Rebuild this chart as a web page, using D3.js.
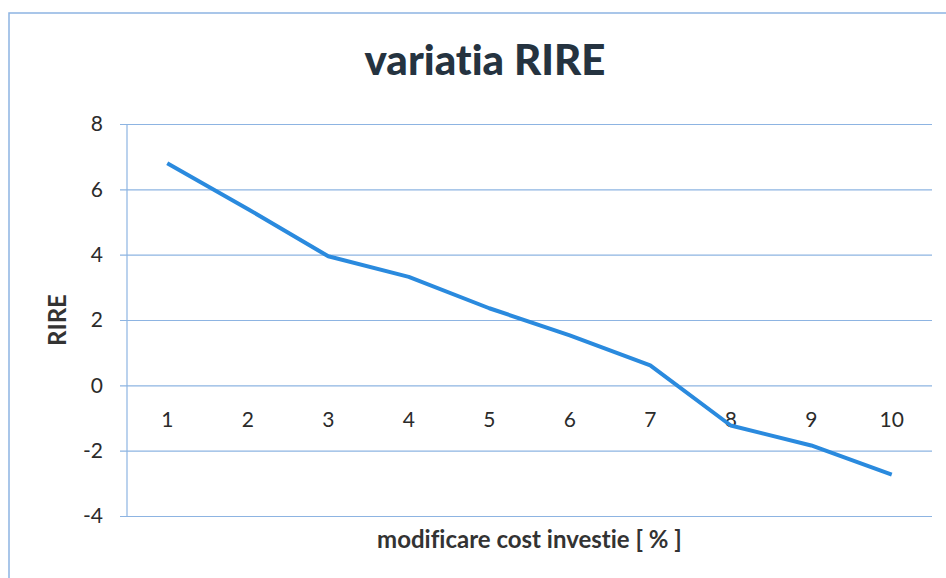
<!DOCTYPE html>
<html>
<head>
<meta charset="utf-8">
<script src="https://cdn.jsdelivr.net/npm/d3@7"></script>
<style>
  html, body { margin: 0; padding: 0; background: #fff; }
  svg { display: block; }
  text { font-variant-ligatures: none; font-feature-settings: "liga" 0, "dlig" 0; }
</style>
</head>
<body>
<div id="chart"></div>
<script>
// data
const categories = [1, 2, 3, 4, 5, 6, 7, 8, 9, 10];
const rireValues = [6.8, 5.4, 3.95, 3.32, 2.36, 1.53, 0.61, -1.23, -1.84, -2.73];
const yTicks = [-4, -2, 0, 2, 4, 6, 8];

const W = 946, H = 578;
const margin = { top: 124, right: 14, bottom: 62, left: 127 };
const width = W - margin.left - margin.right;
const height = H - margin.top - margin.bottom;

const gridColor = "#8db4e2";
const textColor = "#2b2b2b";
const font = "Lato, 'Open Sans', sans-serif";

const svg = d3.select("#chart").append("svg")
  .attr("width", W)
  .attr("height", H);

// chart frame (runs off the right/bottom edge in the scan)
svg.append("rect")
  .attr("x", 9)
  .attr("y", 13)
  .attr("width", W + 10)
  .attr("height", H + 10)
  .attr("fill", "none")
  .attr("stroke", gridColor)
  .attr("stroke-width", 1.5);

const g = svg.append("g")
  .attr("transform", `translate(${margin.left},${margin.top})`);

const x = d3.scaleBand().domain(categories).range([0, width]);
const y = d3.scaleLinear().domain([-4, 8]).range([height, 0]);

// horizontal gridlines with little tick stubs to the left
const yAxis = g.append("g")
  .call(d3.axisLeft(y).tickValues(yTicks).tickFormat(d3.format("d")).tickSize(-width - 7))
  .attr("transform", "translate(-7,0)");
yAxis.select(".domain").remove();
yAxis.selectAll(".tick line")
  .attr("x1", 0)
  .attr("x2", width + 7)
  .attr("stroke", gridColor)
  .attr("stroke-width", 1.2);
yAxis.selectAll(".tick text")
  .attr("x", -17)
  .text(d => String(d))
  .style("font-family", font)
  .style("font-size", "21px")
  .style("fill", textColor);

// vertical axis line
g.append("line")
  .attr("x1", 0).attr("x2", 0)
  .attr("y1", 0).attr("y2", height)
  .attr("stroke", gridColor)
  .attr("stroke-width", 1.2);

// category labels sit just under the zero line
const xAxis = g.append("g")
  .attr("transform", `translate(0,${y(0)})`)
  .call(d3.axisBottom(x).tickSize(0).tickPadding(27));
xAxis.select(".domain").remove();
xAxis.selectAll(".tick text")
  .style("font-family", font)
  .style("font-size", "21px")
  .style("fill", textColor);

// the series
const line = d3.line()
  .x((d, i) => x(categories[i]) + x.bandwidth() / 2)
  .y(d => y(d));

g.append("path")
  .datum(rireValues)
  .attr("d", line)
  .attr("fill", "none")
  .attr("stroke", "#2a8ade")
  .attr("stroke-width", 4)
  .attr("stroke-linejoin", "round");

// titles
svg.append("text")
  .attr("x", 485)
  .attr("y", 75)
  .attr("text-anchor", "middle")
  .style("font-family", font)
  .style("font-weight", "900")
  .style("font-size", "42px")
  .style("fill", "#253340")
  .text("variatia RIRE");

svg.append("text")
  .attr("x", margin.left + width / 2)
  .attr("y", 548)
  .attr("text-anchor", "middle")
  .style("font-family", font)
  .style("font-weight", "bold")
  .style("font-size", "24px")
  .style("fill", "#333")
  .text("modificare cost investie [ % ]");

svg.append("text")
  .attr("transform", `translate(66,${margin.top + height / 2}) rotate(-90)`)
  .attr("text-anchor", "middle")
  .style("font-family", font)
  .style("font-weight", "bold")
  .style("font-size", "24px")
  .style("fill", "#333")
  .text("RIRE");
</script>
</body>
</html>
